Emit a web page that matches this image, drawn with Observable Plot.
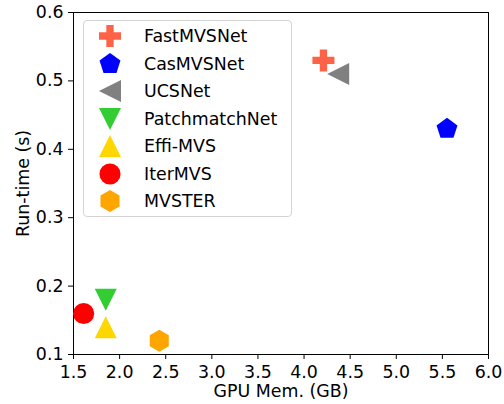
<!DOCTYPE html>
<html>
<head>
<meta charset="utf-8">
<script src="https://cdn.jsdelivr.net/npm/d3@7"></script>
<script src="https://cdn.jsdelivr.net/npm/@observablehq/plot@0.6"></script>
<style>
  html, body { margin: 0; padding: 0; background: white; }
  #wrap { position: relative; width: 504px; height: 404px; font-family: "DejaVu Sans", sans-serif; }
  #legend { position: absolute; left: 83px; top: 20px; width: 207px; height: 195px;
    border: 1px solid #d4d4d4; border-radius: 4px; background: rgba(255,255,255,0.8); }
  .row { position: absolute; left: 0; height: 28px; }
  .row svg { position: absolute; left: 12px; top: 0; }
  .row span { position: absolute; left: 60px; font-size: 17.4px; white-space: nowrap; line-height: 28px; top: 0; color: black; }
</style>
</head>
<body>
<div id="wrap"></div>
<script>
const names = ["FastMVSNet", "CasMVSNet", "UCSNet", "PatchmatchNet", "Effi-MVS", "IterMVS", "MVSTER"];
const gpuMem = [4.21, 5.55, 4.37, 1.85, 1.85, 1.61, 2.43];
const runTime = [0.53, 0.43, 0.51, 0.18, 0.14, 0.16, 0.12];
const colors = ["#ff6347", "#0000ff", "#808080", "#32cd32", "#ffd700", "#ff0000", "#ffa500"];
const xTicks = [1.5, 2.0, 2.5, 3.0, 3.5, 4.0, 4.5, 5.0, 5.5, 6.0];
const yTicks = [0.1, 0.2, 0.3, 0.4, 0.5, 0.6];
const xLabel = "GPU Mem. (GB)";
const yLabel = "Run-time (s)";

function poly(pts) {
  return {draw(ctx, size) {
    const R = Math.sqrt(size / Math.PI);
    pts.forEach(([px, py], i) => i ? ctx.lineTo(px * R, py * R) : ctx.moveTo(px * R, py * R));
    ctx.closePath();
  }};
}
function regular(n) {
  const pts = [];
  for (let k = 0; k < n; k++) {
    const a = -Math.PI / 2 + k * 2 * Math.PI / n;
    pts.push([Math.cos(a), Math.sin(a)]);
  }
  return poly(pts);
}
const a3 = 1 / 3;
const symPlus = poly([[-a3,-1],[a3,-1],[a3,-a3],[1,-a3],[1,a3],[a3,a3],[a3,1],[-a3,1],[-a3,a3],[-1,a3],[-1,-a3],[-a3,-a3]]);
const symPentagon = regular(5);
const symTriLeft = poly([[-1,0],[1,-1],[1,1]]);
const symTriDown = poly([[0,1],[-1,-1],[1,-1]]);
const symTriUp = poly([[0,-1],[-1,1],[1,1]]);
const symCircle = {draw(ctx, size) { const R = Math.sqrt(size / Math.PI) * 0.96; ctx.moveTo(R, 0); ctx.arc(0, 0, R, 0, 2 * Math.PI); }};
const symHexagon = regular(6);
const symbols = [symPlus, symPentagon, symTriLeft, symTriDown, symTriUp, symCircle, symHexagon];

const data = names.map((n, i) => ({name: n, x: gpuMem[i], y: runTime[i]}));

const chart = Plot.plot({
  width: 504,
  height: 404,
  marginLeft: 73,
  marginRight: 16,
  marginTop: 12,
  marginBottom: 50,
  style: {fontFamily: "DejaVu Sans", fontSize: "17.4px", color: "black", background: "white", overflow: "visible"},
  x: {domain: [1.5, 6], ticks: xTicks, tickFormat: d3.format(".1f"), tickSize: 5, tickPadding: 6.5, label: null},
  y: {domain: [0.1, 0.6], ticks: yTicks, tickFormat: d3.format(".1f"), tickSize: 5, tickPadding: 5, label: null},
  symbol: {domain: names, range: symbols},
  color: {domain: names, range: colors},
  marks: [
    Plot.frame({stroke: "black", strokeWidth: 1}),
    Plot.dot(data, {x: "x", y: "y", symbol: "name", fill: "name", r: 11, stroke: "none"}),
    Plot.text([xLabel], {frameAnchor: "bottom", lineAnchor: "middle", textAnchor: "middle", dy: 37, text: d => d, fontSize: 17.4, fill: "black"}),
    Plot.text([yLabel], {frameAnchor: "left", lineAnchor: "middle", textAnchor: "middle", dx: -50, rotate: -90, text: d => d, fontSize: 17.4, fill: "black"})
  ]
});
const wrap = document.getElementById("wrap");
wrap.appendChild(chart);

// Legend
const legend = document.createElement("div");
legend.id = "legend";
names.forEach((n, i) => {
  const row = document.createElement("div");
  row.className = "row";
  row.style.top = (i * 27.5 + 1) + "px";
  const svg = d3.create("svg").attr("width", 28).attr("height", 28);
  const p = d3.path();
  symbols[i].draw(p, Math.PI * 11 * 11);
  svg.append("path").attr("d", p.toString()).attr("transform", "translate(14,14)").attr("fill", colors[i]);
  row.appendChild(svg.node());
  const sp = document.createElement("span");
  sp.textContent = n;
  row.appendChild(sp);
  legend.appendChild(row);
});
wrap.appendChild(legend);
</script>
</body>
</html>
